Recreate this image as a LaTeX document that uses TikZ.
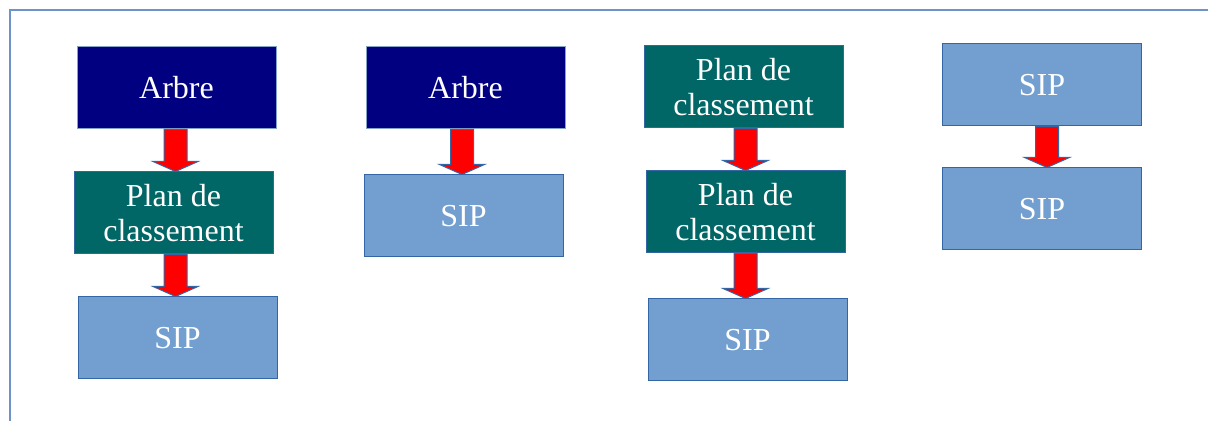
\documentclass[tikz,border=0pt]{standalone}
\usepackage{fontspec}
\setmainfont{Liberation Serif}
\usetikzlibrary{calc}
\definecolor{navyc}{HTML}{000080}
\definecolor{tealc}{HTML}{006666}
\definecolor{sipc}{HTML}{729FCF}
\definecolor{edgec}{HTML}{3465A4}
\definecolor{framec}{HTML}{6F93C8}
\tikzset{
  boxbase/.style={rectangle, draw=edgec, line width=0.5pt, text=white,
    minimum width=99.5pt, minimum height=41pt, inner sep=0pt, align=center,
    font=\fontsize{16}{17.5}\selectfont},
  arbre/.style={boxbase, fill=navyc, draw=edgec!60},
  plan/.style={boxbase, fill=tealc},
  sip/.style={boxbase, fill=sipc},
  redarrowstyle/.style={fill=red, draw=edgec, line width=0.5pt, line join=miter},
  framestyle/.style={draw=framec, line width=0.75pt}
}
\newcommand\flecha[3]{%
  \draw[redarrowstyle] let \p1=($(#1.south)+(#3,0)$), \p2=(#2.north) in
    (\x1-5.75pt,\y1) -- (\x1+5.75pt,\y1) -- (\x1+5.75pt,\y2+5pt) --
    (\x1+11.25pt,\y2+5pt) -- (\x1,\y2) -- (\x1-11.25pt,\y2+5pt) --
    (\x1-5.75pt,\y2+5pt) -- cycle;}
\begin{document}
\begin{tikzpicture}[x=0.5pt,y=-0.5pt]
\useasboundingbox (0,0) rectangle (1208,421);
\coordinate (fa) at (10,421);
\coordinate (fb) at (10,10);
\coordinate (fc) at (1208,10);
\draw[framestyle] (fa) -- (fb) -- (fc);
% column 1
\node[arbre] (a1) at (176.5,88) {Arbre};
\node[plan] (p1) at (173.5,213) {Plan de\\classement};
\node[sip] (s1) at (177.5,338) {SIP};
% column 2
\node[arbre] (a2) at (465.5,88) {Arbre};
\node[sip] (s2) at (463.5,216) {SIP};
% column 3
\node[plan] (p3) at (743.5,87) {Plan de\\classement};
\node[plan] (q3) at (745.5,212) {Plan de\\classement};
\node[sip] (s3) at (747.5,340) {SIP};
% column 4
\node[sip] (s4) at (1042,85) {SIP};
\node[sip] (t4) at (1042,209) {SIP};
% arrows
\flecha{a1}{p1}{-1}
\flecha{p1}{s1}{2}
\flecha{a2}{s2}{-3.5}
\flecha{p3}{q3}{2}
\flecha{q3}{s3}{0}
\flecha{s4}{t4}{5}
\end{tikzpicture}
\end{document}
